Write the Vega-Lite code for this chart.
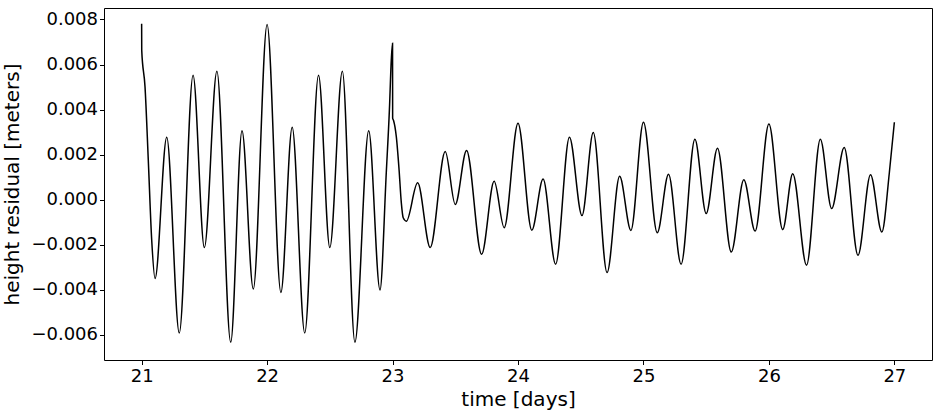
{
  "$schema": "https://vega.github.io/schema/vega-lite/v6.json",
  "autosize": "none",
  "padding": {"left": 104, "top": 8, "right": 1, "bottom": 52},
  "width": 828,
  "height": 352,
  "background": "white",
  "config": {
    "font": "DejaVu Sans",
    "view": {"stroke": "#000", "strokeWidth": 1},
    "axis": {
      "domain": false,
      "grid": false,
      "ticks": true,
      "tickColor": "#000",
      "tickSize": 4.5,
      "tickWidth": 1,
      "labelColor": "#000",
      "labelFont": "DejaVu Sans",
      "labelFontSize": 18,
      "titleFont": "DejaVu Sans",
      "titleFontSize": 20,
      "titleFontWeight": "normal",
      "titleColor": "#000"
    }
  },
  "data": {
    "values": [
      {"t": 21.0, "h": 0.00781},
      {"t": 21.0008, "h": 0.00663},
      {"t": 21.027, "h": 0.00501},
      {"t": 21.053, "h": 0.00177},
      {"t": 21.08, "h": -0.00176},
      {"t": 21.107, "h": -0.00349},
      {"t": 21.2, "h": 0.00278},
      {"t": 21.3, "h": -0.00591},
      {"t": 21.41, "h": 0.00553},
      {"t": 21.5, "h": -0.00212},
      {"t": 21.6, "h": 0.0057},
      {"t": 21.71, "h": -0.00632},
      {"t": 21.8, "h": 0.00306},
      {"t": 21.89, "h": -0.00396},
      {"t": 22.0, "h": 0.00778},
      {"t": 22.11, "h": -0.00411},
      {"t": 22.2, "h": 0.00322},
      {"t": 22.3, "h": -0.00591},
      {"t": 22.41, "h": 0.00553},
      {"t": 22.5, "h": -0.00212},
      {"t": 22.6, "h": 0.0057},
      {"t": 22.7, "h": -0.00632},
      {"t": 22.81, "h": 0.00306},
      {"t": 22.9, "h": -0.004},
      {"t": 22.95, "h": 0.0012},
      {"t": 22.975, "h": 0.004},
      {"t": 22.99, "h": 0.0062},
      {"t": 23.0, "h": 0.00695},
      {"t": 23.0008, "h": 0.00362},
      {"t": 23.008, "h": 0.00352},
      {"t": 23.03, "h": 0.0028},
      {"t": 23.052, "h": 0.00133},
      {"t": 23.07, "h": -0.00014},
      {"t": 23.085, "h": -0.0008},
      {"t": 23.11, "h": -0.00095},
      {"t": 23.2, "h": 0.00075},
      {"t": 23.3, "h": -0.00212},
      {"t": 23.42, "h": 0.00214},
      {"t": 23.5, "h": -0.00021},
      {"t": 23.59, "h": 0.00219},
      {"t": 23.71, "h": -0.00242},
      {"t": 23.81, "h": 0.00082},
      {"t": 23.89, "h": -0.00124},
      {"t": 24.0, "h": 0.0034},
      {"t": 24.11, "h": -0.00135},
      {"t": 24.2, "h": 0.00092},
      {"t": 24.3, "h": -0.00286},
      {"t": 24.41, "h": 0.00278},
      {"t": 24.51, "h": -0.0007},
      {"t": 24.6, "h": 0.00298},
      {"t": 24.71, "h": -0.00323},
      {"t": 24.81, "h": 0.00104},
      {"t": 24.9, "h": -0.00136},
      {"t": 25.0, "h": 0.00344},
      {"t": 25.11, "h": -0.00146},
      {"t": 25.2, "h": 0.00113},
      {"t": 25.3, "h": -0.00286},
      {"t": 25.41, "h": 0.00269},
      {"t": 25.5, "h": -0.00061},
      {"t": 25.59, "h": 0.00229},
      {"t": 25.7, "h": -0.00232},
      {"t": 25.8, "h": 0.00089},
      {"t": 25.89, "h": -0.00139},
      {"t": 26.0, "h": 0.00336},
      {"t": 26.11, "h": -0.00132},
      {"t": 26.19, "h": 0.00116},
      {"t": 26.3, "h": -0.0029},
      {"t": 26.41, "h": 0.00269},
      {"t": 26.5, "h": -0.00039},
      {"t": 26.6, "h": 0.00232},
      {"t": 26.71, "h": -0.00246},
      {"t": 26.81, "h": 0.00111},
      {"t": 26.9, "h": -0.00143},
      {"t": 26.96, "h": 0.0012},
      {"t": 27.0, "h": 0.00344}
    ]
  },
  "mark": {"type": "line", "color": "#000", "strokeWidth": 1.5, "interpolate": "monotone"},
  "encoding": {
    "x": {
      "field": "t",
      "type": "quantitative",
      "scale": {"domain": [20.7, 27.3], "nice": false, "zero": false},
      "axis": {"values": [21, 22, 23, 24, 25, 26, 27], "format": "d", "title": "time [days]", "labelPadding": 3, "titlePadding": 4}
    },
    "y": {
      "field": "h",
      "type": "quantitative",
      "scale": {"domain": [-0.00711, 0.00851], "nice": false, "zero": false},
      "axis": {"values": [-0.006, -0.004, -0.002, 0, 0.002, 0.004, 0.006, 0.008], "format": ".3f", "title": "height residual [meters]", "labelPadding": 2, "titlePadding": 8}
    }
  }
}
